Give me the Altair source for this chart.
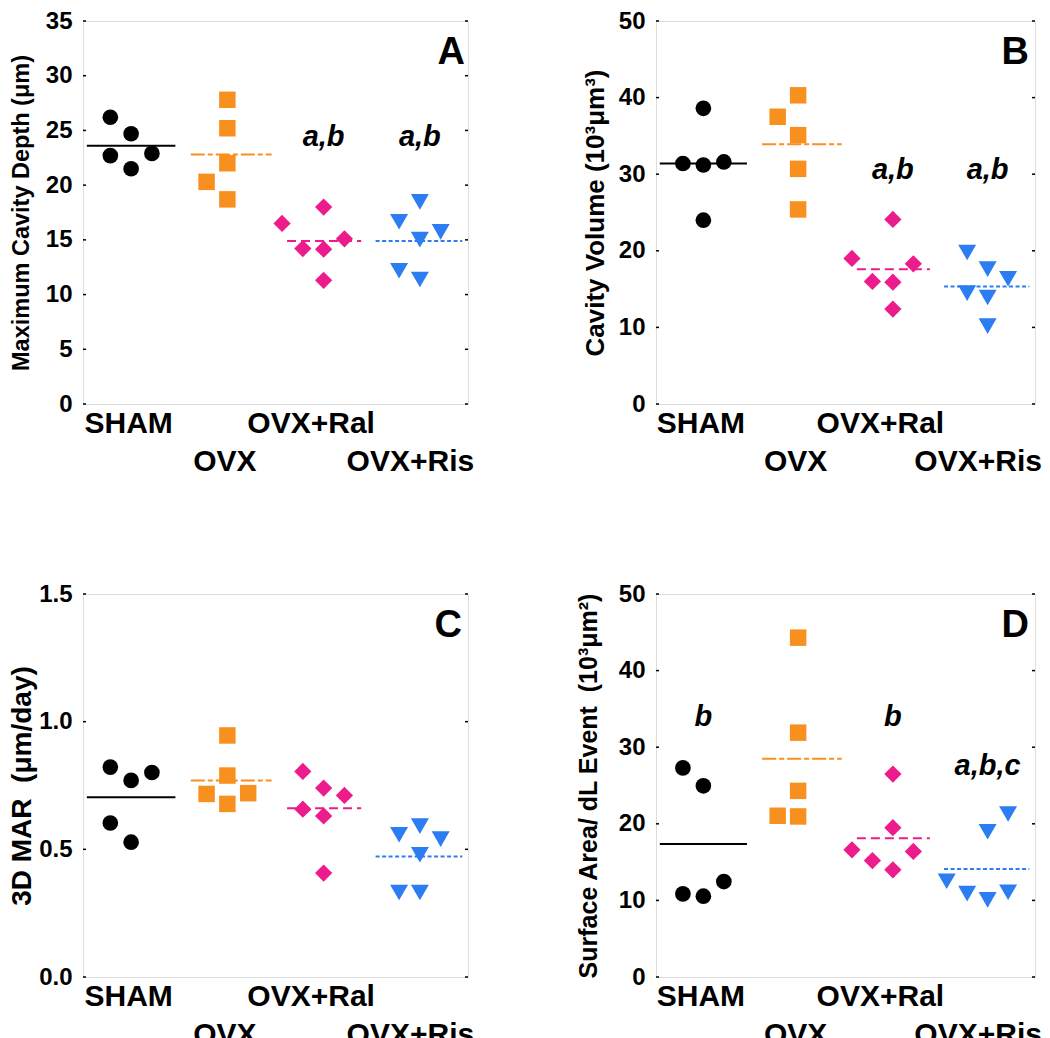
import altair as alt
import pandas as pd

GROUPS = ["SHAM", "OVX", "OVX+Ral", "OVX+Ris"]
COLORS = ["#000000", "#F7901E", "#EC1C8C", "#2D7DF2"]
SHAPES = ["circle", "square", "diamond", "triangle-down"]
SIZES = [245, 324, 256, 300]
DASHES = [[1, 0], [14, 3, 5, 3], [9, 5], [4, 2.5]]

# ---------- Panel A: Maximum Cavity Depth ----------
A_SHAM = [26.2, 24.7, 22.7, 22.9, 21.5]
A_SHAM_COL = [-1, 0, -1, 1, 0]
A_OVX = [27.8, 25.2, 22.0, 20.3, 18.7]
A_OVX_COL = [0, 0, 0, -1, 0]
A_RAL = [16.5, 18.0, 14.2, 14.15, 15.1, 11.3]
A_RAL_COL = [-2, 0, -1, 0, 1, 0]
A_RIS = [16.65, 18.47, 15.73, 15.02, 12.17, 11.38]
A_RIS_COL = [-1, 0, 1, 0, -1, 0]
A_MEANS = [23.6, 22.8, 14.9, 14.9]
A_ANNOT_GROUP = [2, 3]
A_ANNOT_Y = [23.6, 23.6]
A_ANNOT_TEXT = ["a,b", "a,b"]
A_TICKS = [0, 5, 10, 15, 20, 25, 30, 35]

# ---------- Panel B: Cavity Volume ----------
B_SHAM = [38.6, 31.4, 31.2, 31.6, 24.0]
B_SHAM_COL = [0, -1, 0, 1, 0]
B_OVX = [37.5, 40.3, 35.1, 30.7, 25.4]
B_OVX_COL = [-1, 0, 0, 0, 0]
B_RAL = [19.0, 24.1, 16.0, 15.9, 18.3, 12.4]
B_RAL_COL = [-2, 0, -1, 0, 1, 0]
B_RIS = [19.78, 17.61, 16.35, 14.48, 13.91, 10.17]
B_RIS_COL = [-1, 0, 1, -1, 0, 0]
B_MEANS = [31.4, 33.9, 17.6, 15.35]
B_ANNOT_GROUP = [2, 3]
B_ANNOT_Y = [29.4, 29.4]
B_ANNOT_TEXT = ["a,b", "a,b"]
B_TICKS = [0, 10, 20, 30, 40, 50]

# ---------- Panel C: 3D MAR ----------
C_SHAM = [0.822, 0.770, 0.801, 0.603, 0.528]
C_SHAM_COL = [-1, 0, 1, -1, 0]
C_OVX = [0.946, 0.789, 0.717, 0.720, 0.678]
C_OVX_COL = [0, 0, -1, 1, 0]
C_RAL = [0.805, 0.740, 0.711, 0.657, 0.631, 0.407]
C_RAL_COL = [-1, 0, 1, -1, 0, 0]
C_RIS = [0.557, 0.591, 0.540, 0.479, 0.331, 0.331]
C_RIS_COL = [-1, 0, 1, 0, -1, 0]
C_MEANS = [0.704, 0.770, 0.661, 0.472]
C_ANNOT_GROUP = []
C_ANNOT_Y = []
C_ANNOT_TEXT = []
C_TICKS = [0.0, 0.5, 1.0, 1.5]

# ---------- Panel D: Surface Area / dL Event ----------
D_SHAM = [27.3, 24.96, 10.85, 10.55, 12.46]
D_SHAM_COL = [-1, 0, -1, 0, 1]
D_OVX = [44.3, 31.9, 24.3, 21.05, 20.96]
D_OVX_COL = [0, 0, 0, -1, 0]
D_RAL = [26.5, 19.5, 16.6, 16.4, 15.2, 14.0]
D_RAL_COL = [0, 0, -2, 1, -1, 0]
D_RIS = [21.27, 18.97, 12.5, 10.89, 10.07, 11.07]
D_RIS_COL = [1, 0, -2, -1, 0, 1]
D_MEANS = [17.36, 28.5, 18.1, 14.1]
D_ANNOT_GROUP = [0, 2, 3]
D_ANNOT_Y = [32.8, 32.8, 26.4]
D_ANNOT_TEXT = ["b", "b", "a,b,c"]
D_TICKS = [0, 10, 20, 30, 40, 50]

# style constants
COL_STEP = 0.216
MEAN_LEFT = [-0.46, -0.38, -0.38, -0.46]
MEAN_RIGHT = [0.46, 0.46, 0.39, 0.44]
FONT = "Liberation Sans"
PLOT_H = 383

LABEL_EXPR = ("datum.value == 0 ? 'SHAM' : datum.value == 1 ? ['', 'OVX'] : "
              "datum.value == 2 ? 'OVX+Ral' : ['', 'OVX+Ris']")


def make_panel(vals, cols, means, ag, ay, at, ticks, ymax, fmt, ytitle,
               tsize, tpad, letter, lx, width):
    rows = []
    for gi, g in enumerate(GROUPS):
        for v, c in zip(vals[gi], cols[gi]):
            rows.append({"group": g, "value": v, "x": gi + c * COL_STEP})
    pts = pd.DataFrame(rows)
    mdf = pd.DataFrame({
        "group": GROUPS,
        "value": means,
        "x": [i + MEAN_LEFT[i] for i in range(4)],
        "x2": [i + MEAN_RIGHT[i] for i in range(4)],
    })

    xscale = alt.Scale(domain=[-0.5, 3.5], nice=False, zero=False)
    yscale = alt.Scale(domain=[0, ymax], nice=False, zero=False)
    color = alt.Color("group:N", scale=alt.Scale(domain=GROUPS, range=COLORS), legend=None)

    xaxis = alt.Axis(
        values=[0, 1, 2, 3], labelExpr=LABEL_EXPR, ticks=False, tickSize=0,
        domain=False, grid=False, labelFont=FONT, labelFontSize=30,
        labelFontWeight="bold", labelColor="black", labelPadding=4,
        labelLineHeight=38, labelOverlap=False, labelFlush=False,
        labelAlign="center", labelBaseline="top",
        labelOffset={"condition": [{"test": "datum.value == 2", "value": -13},
                                   {"test": "datum.value == 3", "value": -10}],
                     "value": -3},
        title=None,
    )
    yaxis = alt.Axis(
        values=ticks, format=fmt, ticks=False, tickSize=0, domain=False,
        grid=False, labelFont=FONT, labelFontSize=24, labelFontWeight="bold",
        labelColor="black", labelPadding=11, title=ytitle, titleFont=FONT,
        titleFontSize=tsize, titleFontWeight="bold", titleColor="black",
        titlePadding=tpad,
    )

    points = alt.Chart(pts).mark_point(filled=True, opacity=1, strokeWidth=0).encode(
        x=alt.X("x:Q", scale=xscale, axis=xaxis),
        y=alt.Y("value:Q", scale=yscale, axis=yaxis),
        color=color,
        shape=alt.Shape("group:N", scale=alt.Scale(domain=GROUPS, range=SHAPES), legend=None),
        size=alt.Size("group:N", scale=alt.Scale(domain=GROUPS, range=SIZES), legend=None),
    )
    mean_lines = alt.Chart(mdf).mark_rule(strokeWidth=2).encode(
        x=alt.X("x:Q"),
        x2="x2:Q",
        y=alt.Y("value:Q"),
        color=color,
        strokeDash=alt.StrokeDash("group:N", scale=alt.Scale(domain=GROUPS, range=DASHES), legend=None),
    )
    tdf = pd.DataFrame({"value": ticks})
    tick_l = alt.Chart(tdf).mark_rule(color="black", strokeWidth=1.5).encode(
        y=alt.Y("value:Q"), x=alt.value(0), x2=alt.value(3))
    tick_r = alt.Chart(tdf).mark_rule(color="black", strokeWidth=1.5).encode(
        y=alt.Y("value:Q"), x=alt.value(width - 3), x2=alt.value(width))
    ldf = pd.DataFrame({"letter": [letter]})
    letter_mark = alt.Chart(ldf).mark_text(
        font=FONT, fontSize=38, fontWeight="bold", align="right",
        baseline="alphabetic", color="black").encode(
        x=alt.value(width - lx), y=alt.value(43), text="letter:N")

    layers = [points, mean_lines, tick_l, tick_r, letter_mark]
    if ag:
        adf = pd.DataFrame({"x": ag, "value": ay, "text": at})
        annot = alt.Chart(adf).mark_text(
            font=FONT, fontSize=29, fontWeight="bold", fontStyle="italic",
            baseline="alphabetic", align="center", color="black").encode(
            x=alt.X("x:Q"), y=alt.Y("value:Q"), text="text:N")
        layers.append(annot)
    return alt.layer(*layers).properties(width=width, height=PLOT_H)


pA = make_panel([A_SHAM, A_OVX, A_RAL, A_RIS], [A_SHAM_COL, A_OVX_COL, A_RAL_COL, A_RIS_COL],
                A_MEANS, A_ANNOT_GROUP, A_ANNOT_Y, A_ANNOT_TEXT, A_TICKS, 35, "d",
                "Maximum Cavity Depth (μm)", 23.5, 12, "A", 3, 385)
pB = make_panel([B_SHAM, B_OVX, B_RAL, B_RIS], [B_SHAM_COL, B_OVX_COL, B_RAL_COL, B_RIS_COL],
                B_MEANS, B_ANNOT_GROUP, B_ANNOT_Y, B_ANNOT_TEXT, B_TICKS, 50, "d",
                "Cavity Volume (10³μm³)", 26, 10, "B", 6, 379)
pC = make_panel([C_SHAM, C_OVX, C_RAL, C_RIS], [C_SHAM_COL, C_OVX_COL, C_RAL_COL, C_RIS_COL],
                C_MEANS, C_ANNOT_GROUP, C_ANNOT_Y, C_ANNOT_TEXT, C_TICKS, 1.5, ".1f",
                "3D MAR \u00a0(μm/day)", 28, 2, "C", 6, 385)
pD = make_panel([D_SHAM, D_OVX, D_RAL, D_RIS], [D_SHAM_COL, D_OVX_COL, D_RAL_COL, D_RIS_COL],
                D_MEANS, D_ANNOT_GROUP, D_ANNOT_Y, D_ANNOT_TEXT, D_TICKS, 50, "d",
                "Surface Area/ dL Event \u00a0(10³μm²)", 25, 17, "D", 6, 379)

chart = alt.concat(
    pA, pB, pC, pD, columns=2, spacing={"row": 190, "column": 188}, bounds="flush"
).resolve_scale(x="independent", y="independent").properties(
    padding={"left": 0, "top": 0, "right": 0, "bottom": 0}
).configure_view(stroke="black", strokeWidth=2).configure(font=FONT, background="white")

chart.save("out.html", embed_options={"renderer": "svg", "actions": False})
